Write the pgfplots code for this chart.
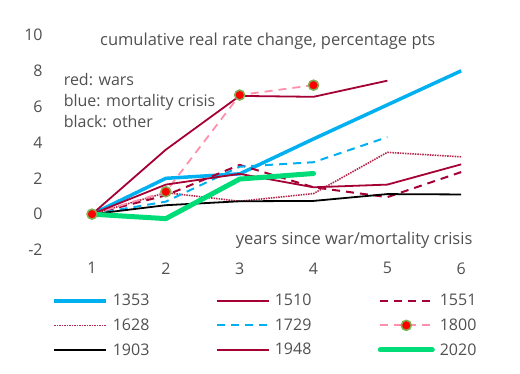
\documentclass[border=0pt]{standalone}
\usepackage{pgfplots}
\pgfplotsset{compat=1.18}
\usepackage{fontspec}
\setmainfont{Open Sans}
\definecolor{cblue}{HTML}{00B0F0}
\definecolor{dred}{HTML}{A50034}
\definecolor{crim}{HTML}{B8284E}
\definecolor{cpink}{HTML}{FF8FAB}
\definecolor{cgreen}{HTML}{00DC78}
\definecolor{txt}{HTML}{505050}
\definecolor{medge}{HTML}{7FAF50}
\begin{document}
\begin{tikzpicture}
\path[use as bounding box] (-55.1pt,-124pt) rectangle (464.9pt,250pt);
\begin{axis}[
  at={(0pt,0pt)}, anchor=south west,
  scale only axis, width=443pt, height=215pt,
  xmin=0.5, xmax=6.5, ymin=-2, ymax=10,
  axis line style={draw=none},
  major tick length=0pt,
  xtick={1,2,3,4,5,6}, ytick={-2,0,2,4,6,8,10},
  /pgf/number format/assume math mode=true,
  tick label style={font=\fontsize{16}{18}\selectfont, text=txt},
  xticklabel style={yshift=-9pt},
  yticklabel style={xshift=-9pt},
  clip=false,
  legend columns=3,
  legend style={draw=none, fill=none, at={(axis description cs:0,0)}, anchor=north west,
    xshift=-3pt, yshift=-42pt, font=\fontsize{16}{18}\selectfont, text=txt,
    /tikz/every even column/.append style={column sep=61pt, text width=40pt},
    /tikz/every odd column/.append style={column sep=3pt},
    row sep=7.5pt, inner sep=0pt},
  legend cell align=left,
  legend image code/.code={\draw[mark repeat=2,mark phase=2,#1] plot coordinates {(0pt,0pt) (26pt,0pt) (52pt,0pt)};},
]
\addplot[cblue, line width=3.5pt] coordinates {(1,0)(2,2.0)(3,2.25)(4,4.2)(5,6.1)(6,8.0)};
\addlegendentry{1353}
\addplot[dred, line width=1.8pt] coordinates {(1,0)(2,3.6)(3,6.6)(4,6.55)(5,7.45)};
\addlegendentry{1510}
\addplot[dred, line width=2pt, dash pattern=on 8pt off 6pt] coordinates {(1,0)(2,1.05)(3,2.75)(4,1.5)(5,0.95)(6,2.35)};
\addlegendentry{1551}
\addplot[crim, line width=1.6pt, dash pattern=on 1.5pt off 1pt] coordinates {(1,0)(2,1.2)(3,0.72)(4,1.15)(5,3.45)(6,3.2)};
\addlegendentry{1628}
\addplot[cblue, line width=2pt, dash pattern=on 8pt off 6pt] coordinates {(1,0)(2,0.7)(3,2.65)(4,2.9)(5,4.3)};
\addlegendentry{1729}
\addplot[cpink, line width=1.8pt, dash pattern=on 8pt off 6pt, mark=*, mark size=5pt,
  mark options={solid, fill=red, draw=medge, line width=1.5pt}] coordinates {(1,0)(2,1.25)(3,6.65)(4,7.2)};
\addlegendentry{1800}
\addplot[black, line width=1.8pt] coordinates {(1,0)(2,0.5)(3,0.72)(4,0.74)(5,1.12)(6,1.1)};
\addlegendentry{1903}
\addplot[dred, line width=1.8pt] coordinates {(1,0)(2,1.65)(3,2.25)(4,1.5)(5,1.65)(6,2.78)};
\addlegendentry{1948}
\addplot[cgreen, line width=5pt, line cap=round] coordinates {(1,0)(2,-0.25)(3,1.96)(4,2.27)};
\addlegendentry{2020}
\node[text=txt, font=\fontsize{16.5}{19}\selectfont] at (axis cs:3.38,9.65) {cumulative real rate change, percentage pts};
\node[text=txt, font=\fontsize{16}{19}\selectfont, anchor=west, align=left] at (axis cs:0.57,6.35)
  {red: wars\\[2pt] blue: mortality crisis\\[2pt] black: other};
\node[text=txt, font=\fontsize{16.5}{19}\selectfont, anchor=east] at (axis cs:6.2,-1.45) {years since war/mortality crisis};
\end{axis}
\end{tikzpicture}
\end{document}
